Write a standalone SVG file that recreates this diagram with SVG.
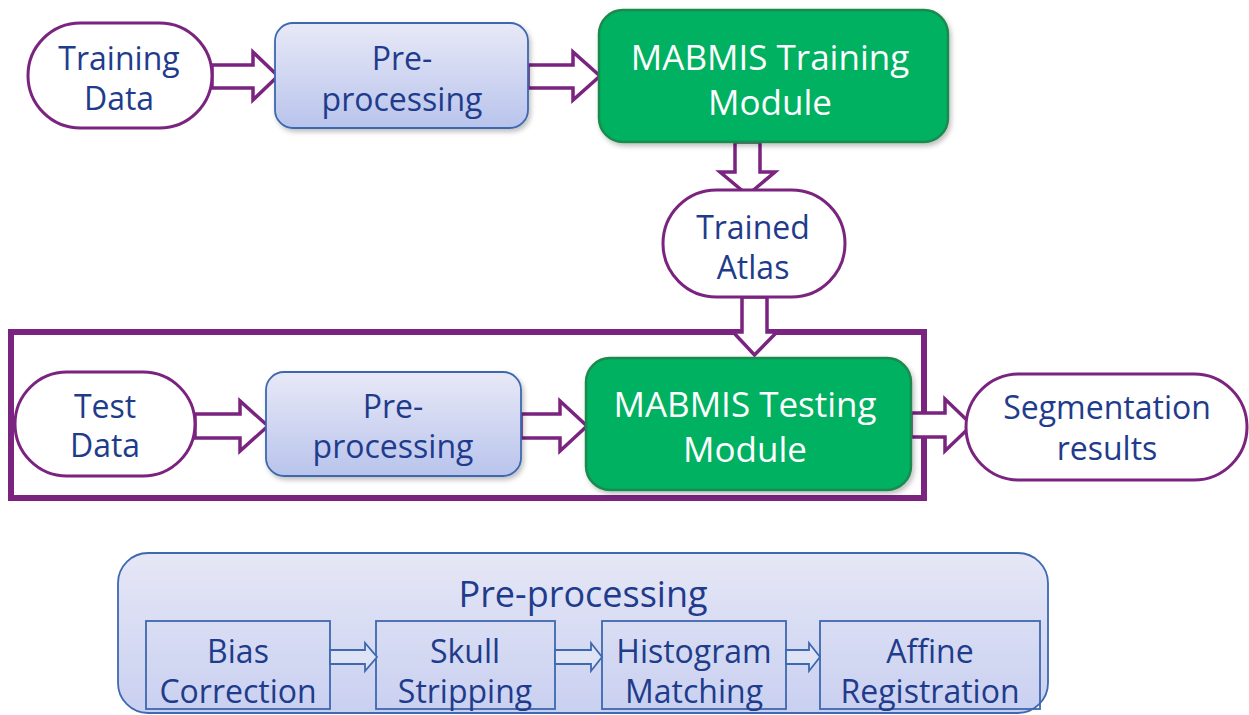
<svg xmlns="http://www.w3.org/2000/svg" width="1249" height="715" viewBox="0 0 1249 715">
  <defs>
    <linearGradient id="boxGrad" x1="0" y1="0" x2="0" y2="1">
      <stop offset="0" stop-color="#e8e9f7"/>
      <stop offset="1" stop-color="#b9c4ec"/>
    </linearGradient>
    <linearGradient id="panelGrad" x1="0" y1="0" x2="0" y2="1">
      <stop offset="0" stop-color="#e6e7f6"/>
      <stop offset="1" stop-color="#c9d0f0"/>
    </linearGradient>
    <filter id="shadow" x="-10%" y="-10%" width="130%" height="130%">
      <feDropShadow dx="2" dy="3" stdDeviation="2.5" flood-color="#000" flood-opacity="0.25"/>
    </filter>
    <style>
      .txt { font-family: "Open Sans", "Noto Sans", sans-serif; font-size: 32px; fill: #1f3c8c; text-anchor: middle; }
      .title { font-size: 36px; }
      .wtxt { font-family: "Open Sans", "Noto Sans", sans-serif; font-size: 35px; fill: #ffffff; text-anchor: middle; }
      .stadium { fill: #ffffff; stroke: #7a237f; stroke-width: 3; }
      .pre { fill: url(#boxGrad); stroke: #3e68b0; stroke-width: 1.8; filter: url(#shadow); }
      .module { fill: #00b162; stroke: #1b8a4e; stroke-width: 2.5; filter: url(#shadow); }
      .arrow { fill: #ffffff; stroke: #7a237f; stroke-width: 3.5; stroke-linejoin: miter; }
      .sarrow { fill: #dfe3f6; stroke: #3e68b0; stroke-width: 1.8; }
      .step { fill: none; stroke: #3e68b0; stroke-width: 1.8; }
      .frame { fill: none; stroke: #7a237f; stroke-width: 6; }
    </style>
  </defs>

  <rect width="1249" height="715" fill="#ffffff"/>

  <!-- testing stage frame -->
  <rect class="frame" x="11" y="332" width="913" height="166"/>

  <!-- connectors -->
  <g id="connectors">
    <polygon class="arrow" points="212,65 253,65 253,52 278,76 253,100 253,88 212,88"/>
    <polygon class="arrow" points="528,65 573,65 573,52 600,76 573,100 573,88 528,88"/>
    <polygon class="arrow" points="735,142 760,142 760,172 775,172 747.5,195 720,172 735,172"/>
    <polygon class="arrow" points="742,297 767,297 767,332 777,332 754.5,355 733,332 742,332"/>
    <polygon class="arrow" points="195,414 240,414 240,401 268,426 240,451 240,438 195,438"/>
    <polygon class="arrow" points="521,414 560,414 560,401 587,426 560,451 560,438 521,438"/>
    <polygon class="arrow" points="911,413 945,413 945,399 972,425 945,451 945,437 911,437"/>
  </g>

  <!-- top row -->
  <g id="training-data">
    <rect class="stadium" x="28" y="23" width="184" height="105" rx="52.5"/>
    <text class="txt" x="119" y="70">Training</text>
    <text class="txt" x="119" y="110">Data</text>
  </g>
  <g id="preprocessing-train">
    <rect class="pre" x="275" y="23" width="253" height="105" rx="18"/>
    <text class="txt" x="402" y="70">Pre-</text>
    <text class="txt" x="402" y="111">processing</text>
  </g>
  <g id="training-module">
    <rect class="module" x="599" y="10" width="349" height="132" rx="24"/>
    <text class="wtxt" x="770" y="70">MABMIS Training</text>
    <text class="wtxt" x="770" y="115">Module</text>
  </g>
  <g id="trained-atlas">
    <rect class="stadium" x="663" y="190" width="182" height="107" rx="53.5"/>
    <text class="txt" x="753" y="239">Trained</text>
    <text class="txt" x="753" y="279">Atlas</text>
  </g>

  <!-- testing row -->
  <g id="test-data">
    <rect class="stadium" x="15" y="372" width="180" height="104" rx="52"/>
    <text class="txt" x="105" y="418">Test</text>
    <text class="txt" x="105" y="457">Data</text>
  </g>
  <g id="preprocessing-test">
    <rect class="pre" x="266" y="372" width="255" height="104" rx="18"/>
    <text class="txt" x="393" y="418">Pre-</text>
    <text class="txt" x="393" y="458">processing</text>
  </g>
  <g id="testing-module">
    <rect class="module" x="586" y="358" width="325" height="132" rx="24"/>
    <text class="wtxt" x="745" y="417">MABMIS Testing</text>
    <text class="wtxt" x="745" y="462">Module</text>
  </g>
  <g id="segmentation-results">
    <rect class="stadium" x="966" y="374" width="281" height="106" rx="53"/>
    <text class="txt" x="1107" y="419">Segmentation</text>
    <text class="txt" x="1107" y="460">results</text>
  </g>

  <!-- pre-processing detail panel -->
  <g id="preprocessing-detail">
    <rect x="118" y="553" width="930" height="160" rx="30" fill="url(#panelGrad)" stroke="#3e68b0" stroke-width="1.8"/>
    <text class="txt title" x="583" y="607">Pre-processing</text>
  </g>
  <g id="bias-correction">
    <rect class="step" x="146" y="621" width="184" height="88"/>
    <text class="txt" x="238" y="663">Bias</text>
    <text class="txt" x="238" y="703">Correction</text>
  </g>
  <g id="skull-stripping">
    <rect class="step" x="376" y="621" width="179" height="88"/>
    <text class="txt" x="465" y="663">Skull</text>
    <text class="txt" x="465" y="703">Stripping</text>
  </g>
  <g id="histogram-matching">
    <rect class="step" x="602" y="621" width="184" height="88"/>
    <text class="txt" x="694" y="663">Histogram</text>
    <text class="txt" x="694" y="703">Matching</text>
  </g>
  <g id="affine-registration">
    <rect class="step" x="820" y="621" width="220" height="88"/>
    <text class="txt" x="930" y="663">Affine</text>
    <text class="txt" x="930" y="703">Registration</text>
  </g>
  <g id="step-connectors">
    <polygon class="sarrow" points="330,650 365,650 365,643 377,657 365,671 365,664 330,664"/>
    <polygon class="sarrow" points="555,650 591,650 591,643 602,657 591,671 591,664 555,664"/>
    <polygon class="sarrow" points="786,650 809,650 809,643 820,657 809,671 809,664 786,664"/>
  </g>
</svg>
